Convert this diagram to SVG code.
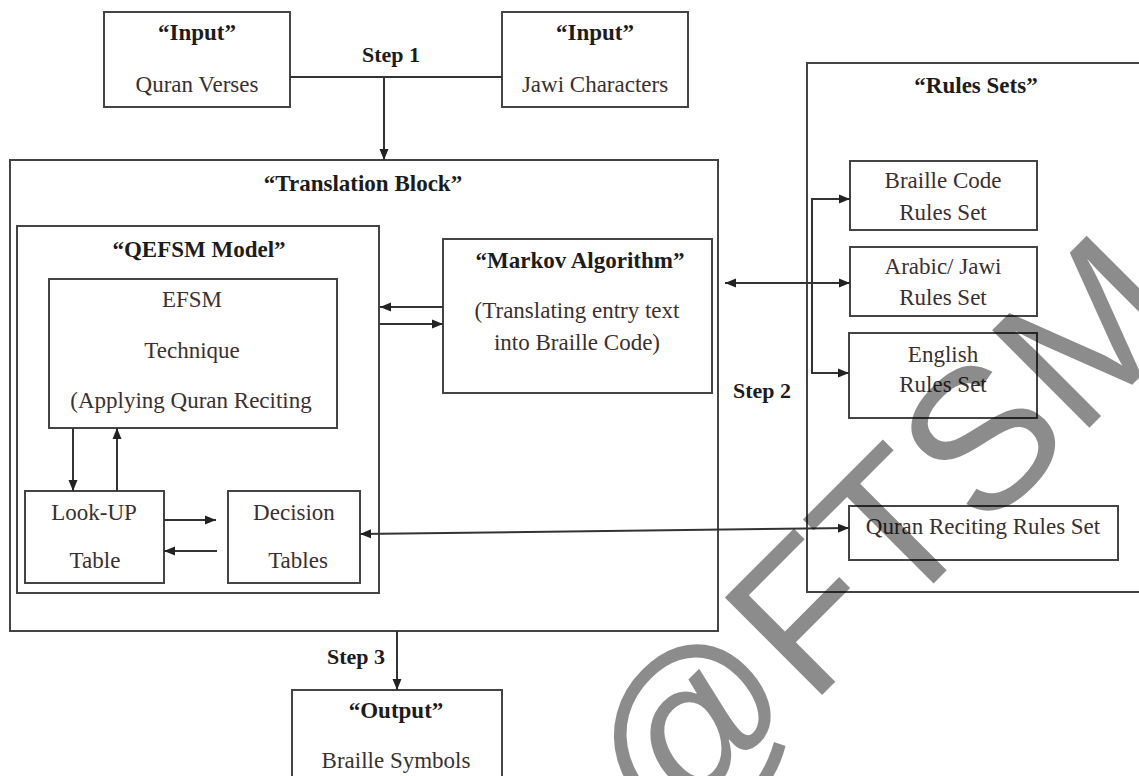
<svg xmlns="http://www.w3.org/2000/svg" width="1139" height="776" viewBox="0 0 1139 776">
<defs>
<marker id="ah" markerUnits="userSpaceOnUse" markerWidth="12" markerHeight="10" refX="11" refY="5" orient="auto-start-reverse">
<path d="M0,0.5 L11,5 L0,9.5 z" fill="#222"/>
</marker>
<style>
.box{fill:none;stroke:#444;stroke-width:2}
.t{font-family:"Liberation Serif","Times New Roman",serif;font-size:23px;fill:#3a3030;text-anchor:middle}
.b{font-family:"Liberation Serif","Times New Roman",serif;font-size:23px;font-weight:bold;fill:#1c1c1c;text-anchor:middle}
.s{font-family:"Liberation Serif","Times New Roman",serif;font-size:22px;font-weight:bold;fill:#1c1c1c}
.c{fill:none;stroke:#333;stroke-width:2}
.wm{font-family:"Liberation Sans",Arial,sans-serif;font-size:200px;fill:#000;fill-opacity:0.45}
</style>
</defs>
<rect width="1139" height="776" fill="#fff"/>

<g id="input-quran">
<rect class="box" x="104" y="12" width="186" height="95"/>
<text class="b" x="197" y="40">“Input”</text>
<text class="t" x="197" y="92">Quran Verses</text>
</g>
<g id="input-jawi">
<rect class="box" x="502" y="12" width="186" height="95"/>
<text class="b" x="595" y="40">“Input”</text>
<text class="t" x="595" y="92">Jawi Characters</text>
</g>

<g id="translation-block">
<rect class="box" x="10" y="160" width="708" height="471"/>
<text class="b" x="363" y="191">“Translation Block”</text>
</g>
<g id="qefsm-model">
<rect class="box" x="17" y="226" width="362" height="367"/>
<text class="b" x="199" y="257">“QEFSM Model”</text>
</g>
<g id="efsm">
<rect class="box" x="49" y="279" width="288" height="149"/>
<text class="t" x="192" y="307">EFSM</text>
<text class="t" x="192" y="358">Technique</text>
<text class="t" x="191" y="408">(Applying Quran Reciting</text>
</g>
<g id="lookup">
<rect class="box" x="25" y="491" width="139" height="92"/>
<text class="t" x="94" y="520">Look-UP</text>
<text class="t" x="95" y="568">Table</text>
</g>
<g id="decision">
<rect class="box" x="228" y="491" width="132" height="92"/>
<text class="t" x="294" y="520">Decision</text>
<text class="t" x="298" y="568">Tables</text>
</g>
<g id="markov">
<rect class="box" x="443" y="239" width="269" height="154"/>
<text class="b" x="580" y="268">“Markov Algorithm”</text>
<text class="t" x="577" y="318">(Translating  entry text</text>
<text class="t" x="577" y="350">into Braille Code)</text>
</g>

<g id="rules-sets">
<rect class="box" x="807" y="63" width="400" height="529"/>
<text class="b" x="976" y="93">“Rules Sets”</text>
</g>
<g id="braille-rules">
<rect class="box" x="850" y="161" width="187" height="69"/>
<text class="t" x="943" y="188">Braille Code</text>
<text class="t" x="943" y="220">Rules Set</text>
</g>
<g id="arabic-rules">
<rect class="box" x="850" y="247" width="187" height="69"/>
<text class="t" x="943" y="274">Arabic/ Jawi</text>
<text class="t" x="943" y="305">Rules Set</text>
</g>
<g id="english-rules">
<rect class="box" x="849" y="333" width="188" height="85"/>
<text class="t" x="943" y="362">English</text>
<text class="t" x="943" y="392">Rules Set</text>
</g>
<g id="quran-rules">
<rect class="box" x="849" y="506" width="269" height="54"/>
<text class="t" x="983" y="534">Quran Reciting Rules Set</text>
</g>

<g id="output">
<rect class="box" x="292" y="690" width="210" height="110"/>
<text class="b" x="396" y="718">“Output”</text>
<text class="t" x="396" y="768">Braille Symbols</text>
</g>

<g id="connectors">
<path class="c" d="M290,77 H502"/>
<path class="c" d="M384,77 V160" marker-end="url(#ah)"/>
<path class="c" d="M73,428 V491" marker-end="url(#ah)"/>
<path class="c" d="M117,491 V428" marker-end="url(#ah)"/>
<path class="c" d="M164,520 H216" marker-end="url(#ah)"/>
<path class="c" d="M217,551 H164" marker-end="url(#ah)"/>
<path class="c" d="M443,307 H380" marker-end="url(#ah)"/>
<path class="c" d="M380,324 H443" marker-end="url(#ah)"/>
<path class="c" d="M725,283 H850" marker-start="url(#ah)" marker-end="url(#ah)"/>
<path class="c" d="M850,199 H812 V373 H849" marker-start="url(#ah)" marker-end="url(#ah)"/>
<path class="c" d="M360,534 L849,528" marker-start="url(#ah)" marker-end="url(#ah)"/>
<path class="c" d="M397,631 V690" marker-end="url(#ah)"/>
<text class="s" x="362" y="62">Step 1</text>
<text class="s" x="791" y="398" text-anchor="end">Step 2</text>
<text class="s" x="385" y="664" text-anchor="end">Step 3</text>
</g>

<text class="wm" transform="translate(667,850) rotate(-45)">@FTSM</text>
</svg>
